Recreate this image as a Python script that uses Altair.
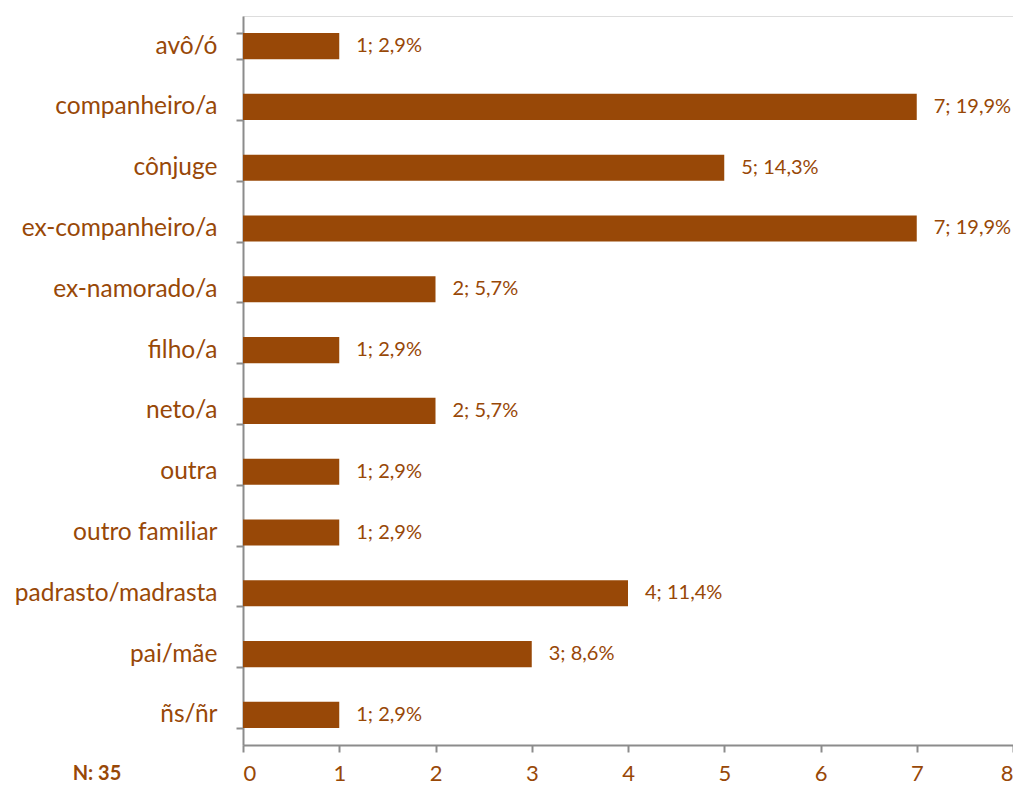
import altair as alt
import pandas as pd

categories = ["avô/ó", "companheiro/a", "cônjuge", "ex-companheiro/a", "ex-namorado/a",
              "filho/a", "neto/a", "outra", "outro familiar", "padrasto/madrasta",
              "pai/mãe", "ñs/ñr"]
counts = [1, 7, 5, 7, 2, 1, 2, 1, 1, 4, 3, 1]
percents = [2.9, 19.9, 14.3, 19.9, 5.7, 2.9, 5.7, 2.9, 2.9, 11.4, 8.6, 2.9]
x_ticks = [0, 1, 2, 3, 4, 5, 6, 7, 8]
n_label = "N: 35"

labels = [f"{c}; {str(p).replace('.', ',')}%" for c, p in zip(counts, percents)]
df = pd.DataFrame({"cat": categories, "count": counts, "label": labels})

BROWN = "#984807"
AXIS = "#8c8c8c"
FONT = "Lato"

y_enc = alt.Y("cat:N", sort=categories, title=None,
              scale=alt.Scale(paddingInner=0.57, paddingOuter=0.28),
              axis=alt.Axis(labelFontSize=24.5, labelColor=BROWN, labelFont=FONT,
                            labelPadding=19, labelLimit=1000, tickBand="extent",
                            tickSize=7, tickColor=AXIS, domainColor=AXIS,
                            domainWidth=2, tickWidth=2, grid=False))
x_enc = alt.X("count:Q", title=None,
              scale=alt.Scale(domain=[0, 8], nice=False),
              axis=alt.Axis(values=x_ticks, labelFontSize=22, labelColor=BROWN,
                            labelFont=FONT, tickSize=7, tickColor=AXIS,
                            domainColor=AXIS, domainWidth=2, tickWidth=2,
                            grid=False, labelPadding=11, format="d"))

bars = alt.Chart(df).mark_bar(color=BROWN).encode(x=x_enc, y=y_enc)
text = alt.Chart(df).mark_text(align="left", dx=17, fontSize=20, color=BROWN,
                               font=FONT).encode(x="count:Q",
                                                 y=alt.Y("cat:N", sort=categories),
                                                 text="label:N")
nlab = alt.Chart(pd.DataFrame({"t": [n_label]})).mark_text(
    fontSize=20, fontWeight="bold", color=BROWN, font=FONT, align="center",
    baseline="middle"
).encode(x=alt.value(-146), y=alt.value(758), text="t:N")

chart = (bars + text + nlab).properties(
    width=770, height=729,
    padding={"left": 235, "top": 8, "right": 0, "bottom": 40},
    autosize=alt.AutoSizeParams(type="none"),
).configure_view(stroke=None).configure(background="white")

chart.save("out.html", embed_options={"renderer": "svg", "actions": False})
